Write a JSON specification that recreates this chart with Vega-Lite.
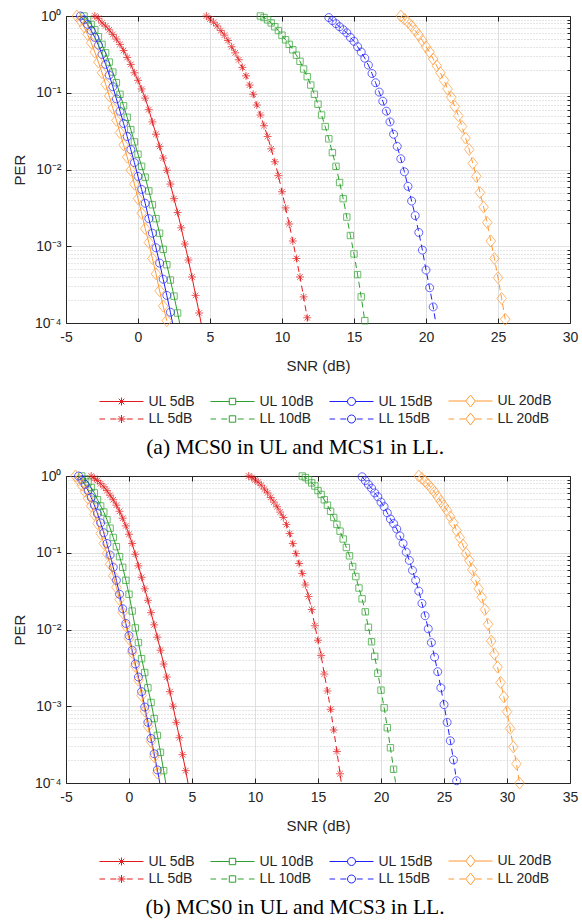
{
  "$schema": "https://vega.github.io/schema/vega-lite/v6.json",
  "background": "white",
  "padding": {"left": 12, "top": 8, "right": 2, "bottom": 2},
  "spacing": 9,
  "datasets": {
    "a": [
      {"series":"UL 5dB","snr":-3,"per":1},{"series":"UL 5dB","snr":-2.75,"per":0.933},{"series":"UL 5dB","snr":-2.5,"per":0.813},{"series":"UL 5dB","snr":-2.25,"per":0.741},{"series":"UL 5dB","snr":-2,"per":0.661},{"series":"UL 5dB","snr":-1.75,"per":0.575},{"series":"UL 5dB","snr":-1.5,"per":0.501},{"series":"UL 5dB","snr":-1.25,"per":0.427},{"series":"UL 5dB","snr":-1,"per":0.355},{"series":"UL 5dB","snr":-0.75,"per":0.288},{"series":"UL 5dB","snr":-0.5,"per":0.234},{"series":"UL 5dB","snr":-0.25,"per":0.182},{"series":"UL 5dB","snr":0,"per":0.145},{"series":"UL 5dB","snr":0.25,"per":0.112},{"series":"UL 5dB","snr":0.5,"per":0.0851},{"series":"UL 5dB","snr":0.75,"per":0.0603},{"series":"UL 5dB","snr":1,"per":0.0417},{"series":"UL 5dB","snr":1.25,"per":0.0288},{"series":"UL 5dB","snr":1.5,"per":0.02},{"series":"UL 5dB","snr":1.75,"per":0.0141},{"series":"UL 5dB","snr":2,"per":0.00977},{"series":"UL 5dB","snr":2.25,"per":0.00646},{"series":"UL 5dB","snr":2.5,"per":0.00417},{"series":"UL 5dB","snr":2.75,"per":0.00275},{"series":"UL 5dB","snr":3,"per":0.00174},{"series":"UL 5dB","snr":3.25,"per":0.00107},{"series":"UL 5dB","snr":3.5,"per":0.000661},{"series":"UL 5dB","snr":3.75,"per":0.000398},{"series":"UL 5dB","snr":4,"per":0.000229},{"series":"UL 5dB","snr":4.25,"per":0.000135},{"series":"UL 5dB","snr":4.5,"per":0.0000759},
      {"series":"UL 10dB","snr":-3.75,"per":1},{"series":"UL 10dB","snr":-3.5,"per":0.891},{"series":"UL 10dB","snr":-3.25,"per":0.776},{"series":"UL 10dB","snr":-3,"per":0.661},{"series":"UL 10dB","snr":-2.75,"per":0.537},{"series":"UL 10dB","snr":-2.5,"per":0.427},{"series":"UL 10dB","snr":-2.25,"per":0.331},{"series":"UL 10dB","snr":-2,"per":0.251},{"series":"UL 10dB","snr":-1.75,"per":0.186},{"series":"UL 10dB","snr":-1.5,"per":0.135},{"series":"UL 10dB","snr":-1.25,"per":0.0955},{"series":"UL 10dB","snr":-1,"per":0.0676},{"series":"UL 10dB","snr":-0.75,"per":0.0479},{"series":"UL 10dB","snr":-0.5,"per":0.0331},{"series":"UL 10dB","snr":-0.25,"per":0.0229},{"series":"UL 10dB","snr":0,"per":0.0158},{"series":"UL 10dB","snr":0.25,"per":0.011},{"series":"UL 10dB","snr":0.5,"per":0.00794},{"series":"UL 10dB","snr":0.75,"per":0.00525},{"series":"UL 10dB","snr":1,"per":0.00347},{"series":"UL 10dB","snr":1.25,"per":0.00229},{"series":"UL 10dB","snr":1.5,"per":0.00148},{"series":"UL 10dB","snr":1.75,"per":0.000912},{"series":"UL 10dB","snr":2,"per":0.000575},{"series":"UL 10dB","snr":2.25,"per":0.000363},{"series":"UL 10dB","snr":2.5,"per":0.000224},{"series":"UL 10dB","snr":2.75,"per":0.000135},{"series":"UL 10dB","snr":3,"per":0.0000794},
      {"series":"UL 15dB","snr":-4,"per":1},{"series":"UL 15dB","snr":-3.75,"per":0.891},{"series":"UL 15dB","snr":-3.5,"per":0.776},{"series":"UL 15dB","snr":-3.25,"per":0.646},{"series":"UL 15dB","snr":-3,"per":0.525},{"series":"UL 15dB","snr":-2.75,"per":0.417},{"series":"UL 15dB","snr":-2.5,"per":0.316},{"series":"UL 15dB","snr":-2.25,"per":0.234},{"series":"UL 15dB","snr":-2,"per":0.17},{"series":"UL 15dB","snr":-1.75,"per":0.12},{"series":"UL 15dB","snr":-1.5,"per":0.0832},{"series":"UL 15dB","snr":-1.25,"per":0.0575},{"series":"UL 15dB","snr":-1,"per":0.0398},{"series":"UL 15dB","snr":-0.75,"per":0.0269},{"series":"UL 15dB","snr":-0.5,"per":0.0182},{"series":"UL 15dB","snr":-0.25,"per":0.0123},{"series":"UL 15dB","snr":0,"per":0.00813},{"series":"UL 15dB","snr":0.25,"per":0.0055},{"series":"UL 15dB","snr":0.5,"per":0.00363},{"series":"UL 15dB","snr":0.75,"per":0.00229},{"series":"UL 15dB","snr":1,"per":0.00148},{"series":"UL 15dB","snr":1.25,"per":0.000955},{"series":"UL 15dB","snr":1.5,"per":0.000603},{"series":"UL 15dB","snr":1.75,"per":0.000372},{"series":"UL 15dB","snr":2,"per":0.000229},{"series":"UL 15dB","snr":2.25,"per":0.000138},{"series":"UL 15dB","snr":2.5,"per":0.0000794},
      {"series":"UL 20dB","snr":-4.25,"per":1},{"series":"UL 20dB","snr":-4,"per":0.871},{"series":"UL 20dB","snr":-3.75,"per":0.724},{"series":"UL 20dB","snr":-3.5,"per":0.575},{"series":"UL 20dB","snr":-3.25,"per":0.447},{"series":"UL 20dB","snr":-3,"per":0.339},{"series":"UL 20dB","snr":-2.75,"per":0.251},{"series":"UL 20dB","snr":-2.5,"per":0.182},{"series":"UL 20dB","snr":-2.25,"per":0.129},{"series":"UL 20dB","snr":-2,"per":0.0912},{"series":"UL 20dB","snr":-1.75,"per":0.0631},{"series":"UL 20dB","snr":-1.5,"per":0.0437},{"series":"UL 20dB","snr":-1.25,"per":0.0302},{"series":"UL 20dB","snr":-1,"per":0.0209},{"series":"UL 20dB","snr":-0.75,"per":0.0145},{"series":"UL 20dB","snr":-0.5,"per":0.00977},{"series":"UL 20dB","snr":-0.25,"per":0.00646},{"series":"UL 20dB","snr":0,"per":0.00417},{"series":"UL 20dB","snr":0.25,"per":0.00269},{"series":"UL 20dB","snr":0.5,"per":0.0017},{"series":"UL 20dB","snr":0.75,"per":0.00112},{"series":"UL 20dB","snr":1,"per":0.000692},{"series":"UL 20dB","snr":1.25,"per":0.000437},{"series":"UL 20dB","snr":1.5,"per":0.000263},{"series":"UL 20dB","snr":1.75,"per":0.000166},{"series":"UL 20dB","snr":2,"per":0.000107},
      {"series":"LL 5dB","snr":4.75,"per":1},{"series":"LL 5dB","snr":5,"per":0.912},{"series":"LL 5dB","snr":5.25,"per":0.832},{"series":"LL 5dB","snr":5.5,"per":0.741},{"series":"LL 5dB","snr":5.75,"per":0.646},{"series":"LL 5dB","snr":6,"per":0.562},{"series":"LL 5dB","snr":6.25,"per":0.479},{"series":"LL 5dB","snr":6.5,"per":0.398},{"series":"LL 5dB","snr":6.75,"per":0.331},{"series":"LL 5dB","snr":7,"per":0.269},{"series":"LL 5dB","snr":7.25,"per":0.214},{"series":"LL 5dB","snr":7.5,"per":0.166},{"series":"LL 5dB","snr":7.75,"per":0.126},{"series":"LL 5dB","snr":8,"per":0.0955},{"series":"LL 5dB","snr":8.25,"per":0.0692},{"series":"LL 5dB","snr":8.5,"per":0.0513},{"series":"LL 5dB","snr":8.75,"per":0.0372},{"series":"LL 5dB","snr":9,"per":0.0269},{"series":"LL 5dB","snr":9.25,"per":0.0186},{"series":"LL 5dB","snr":9.5,"per":0.0126},{"series":"LL 5dB","snr":9.75,"per":0.00832},{"series":"LL 5dB","snr":10,"per":0.00513},{"series":"LL 5dB","snr":10.25,"per":0.00316},{"series":"LL 5dB","snr":10.5,"per":0.00195},{"series":"LL 5dB","snr":10.75,"per":0.00117},{"series":"LL 5dB","snr":11,"per":0.000692},{"series":"LL 5dB","snr":11.25,"per":0.000398},{"series":"LL 5dB","snr":11.5,"per":0.000219},{"series":"LL 5dB","snr":11.75,"per":0.000117},{"series":"LL 5dB","snr":12,"per":0.0000631},
      {"series":"LL 10dB","snr":8.5,"per":1},{"series":"LL 10dB","snr":8.75,"per":0.955},{"series":"LL 10dB","snr":9,"per":0.891},{"series":"LL 10dB","snr":9.25,"per":0.813},{"series":"LL 10dB","snr":9.5,"per":0.724},{"series":"LL 10dB","snr":9.75,"per":0.646},{"series":"LL 10dB","snr":10,"per":0.562},{"series":"LL 10dB","snr":10.25,"per":0.49},{"series":"LL 10dB","snr":10.5,"per":0.427},{"series":"LL 10dB","snr":10.75,"per":0.363},{"series":"LL 10dB","snr":11,"per":0.309},{"series":"LL 10dB","snr":11.25,"per":0.257},{"series":"LL 10dB","snr":11.5,"per":0.204},{"series":"LL 10dB","snr":11.75,"per":0.162},{"series":"LL 10dB","snr":12,"per":0.126},{"series":"LL 10dB","snr":12.25,"per":0.0955},{"series":"LL 10dB","snr":12.5,"per":0.0708},{"series":"LL 10dB","snr":12.75,"per":0.0513},{"series":"LL 10dB","snr":13,"per":0.0363},{"series":"LL 10dB","snr":13.25,"per":0.0251},{"series":"LL 10dB","snr":13.5,"per":0.0166},{"series":"LL 10dB","snr":13.75,"per":0.011},{"series":"LL 10dB","snr":14,"per":0.00676},{"series":"LL 10dB","snr":14.25,"per":0.00417},{"series":"LL 10dB","snr":14.5,"per":0.0024},{"series":"LL 10dB","snr":14.75,"per":0.00138},{"series":"LL 10dB","snr":15,"per":0.000794},{"series":"LL 10dB","snr":15.25,"per":0.000427},{"series":"LL 10dB","snr":15.5,"per":0.000219},{"series":"LL 10dB","snr":15.75,"per":0.000107},
      {"series":"LL 15dB","snr":13.25,"per":0.955},{"series":"LL 15dB","snr":13.5,"per":0.871},{"series":"LL 15dB","snr":13.75,"per":0.794},{"series":"LL 15dB","snr":14,"per":0.724},{"series":"LL 15dB","snr":14.25,"per":0.661},{"series":"LL 15dB","snr":14.5,"per":0.603},{"series":"LL 15dB","snr":14.75,"per":0.525},{"series":"LL 15dB","snr":15,"per":0.468},{"series":"LL 15dB","snr":15.25,"per":0.398},{"series":"LL 15dB","snr":15.5,"per":0.339},{"series":"LL 15dB","snr":15.75,"per":0.282},{"series":"LL 15dB","snr":16,"per":0.229},{"series":"LL 15dB","snr":16.25,"per":0.178},{"series":"LL 15dB","snr":16.5,"per":0.135},{"series":"LL 15dB","snr":16.75,"per":0.102},{"series":"LL 15dB","snr":17,"per":0.0776},{"series":"LL 15dB","snr":17.25,"per":0.0575},{"series":"LL 15dB","snr":17.5,"per":0.0417},{"series":"LL 15dB","snr":17.75,"per":0.0288},{"series":"LL 15dB","snr":18,"per":0.02},{"series":"LL 15dB","snr":18.25,"per":0.0138},{"series":"LL 15dB","snr":18.5,"per":0.00933},{"series":"LL 15dB","snr":18.75,"per":0.00603},{"series":"LL 15dB","snr":19,"per":0.00389},{"series":"LL 15dB","snr":19.25,"per":0.00251},{"series":"LL 15dB","snr":19.5,"per":0.00151},{"series":"LL 15dB","snr":19.75,"per":0.000891},{"series":"LL 15dB","snr":20,"per":0.00049},{"series":"LL 15dB","snr":20.25,"per":0.000288},{"series":"LL 15dB","snr":20.5,"per":0.000162},{"series":"LL 15dB","snr":20.75,"per":0.0000832},
      {"series":"LL 20dB","snr":18.25,"per":1},{"series":"LL 20dB","snr":18.5,"per":0.912},{"series":"LL 20dB","snr":18.75,"per":0.832},{"series":"LL 20dB","snr":19,"per":0.741},{"series":"LL 20dB","snr":19.25,"per":0.646},{"series":"LL 20dB","snr":19.5,"per":0.562},{"series":"LL 20dB","snr":19.75,"per":0.479},{"series":"LL 20dB","snr":20,"per":0.398},{"series":"LL 20dB","snr":20.25,"per":0.339},{"series":"LL 20dB","snr":20.5,"per":0.275},{"series":"LL 20dB","snr":20.75,"per":0.224},{"series":"LL 20dB","snr":21,"per":0.182},{"series":"LL 20dB","snr":21.25,"per":0.145},{"series":"LL 20dB","snr":21.5,"per":0.112},{"series":"LL 20dB","snr":21.75,"per":0.0871},{"series":"LL 20dB","snr":22,"per":0.0661},{"series":"LL 20dB","snr":22.25,"per":0.0501},{"series":"LL 20dB","snr":22.5,"per":0.0363},{"series":"LL 20dB","snr":22.75,"per":0.0257},{"series":"LL 20dB","snr":23,"per":0.0182},{"series":"LL 20dB","snr":23.25,"per":0.012},{"series":"LL 20dB","snr":23.5,"per":0.00813},{"series":"LL 20dB","snr":23.75,"per":0.00501},{"series":"LL 20dB","snr":24,"per":0.00324},{"series":"LL 20dB","snr":24.25,"per":0.00204},{"series":"LL 20dB","snr":24.5,"per":0.00117},{"series":"LL 20dB","snr":24.75,"per":0.000692},{"series":"LL 20dB","snr":25,"per":0.000389},{"series":"LL 20dB","snr":25.25,"per":0.000209},{"series":"LL 20dB","snr":25.5,"per":0.000112}
    ],
    "b": [
      {"series":"UL 5dB","snr":-3,"per":1},{"series":"UL 5dB","snr":-2.75,"per":0.933},{"series":"UL 5dB","snr":-2.5,"per":0.871},{"series":"UL 5dB","snr":-2.25,"per":0.794},{"series":"UL 5dB","snr":-2,"per":0.724},{"series":"UL 5dB","snr":-1.75,"per":0.646},{"series":"UL 5dB","snr":-1.5,"per":0.562},{"series":"UL 5dB","snr":-1.25,"per":0.49},{"series":"UL 5dB","snr":-1,"per":0.417},{"series":"UL 5dB","snr":-0.75,"per":0.347},{"series":"UL 5dB","snr":-0.5,"per":0.282},{"series":"UL 5dB","snr":-0.25,"per":0.224},{"series":"UL 5dB","snr":0,"per":0.174},{"series":"UL 5dB","snr":0.25,"per":0.132},{"series":"UL 5dB","snr":0.5,"per":0.0955},{"series":"UL 5dB","snr":0.75,"per":0.0676},{"series":"UL 5dB","snr":1,"per":0.0479},{"series":"UL 5dB","snr":1.25,"per":0.0339},{"series":"UL 5dB","snr":1.5,"per":0.024},{"series":"UL 5dB","snr":1.75,"per":0.0166},{"series":"UL 5dB","snr":2,"per":0.0115},{"series":"UL 5dB","snr":2.25,"per":0.00794},{"series":"UL 5dB","snr":2.5,"per":0.00537},{"series":"UL 5dB","snr":2.75,"per":0.00355},{"series":"UL 5dB","snr":3,"per":0.0024},{"series":"UL 5dB","snr":3.25,"per":0.00155},{"series":"UL 5dB","snr":3.5,"per":0.001},{"series":"UL 5dB","snr":3.75,"per":0.000617},{"series":"UL 5dB","snr":4,"per":0.000389},{"series":"UL 5dB","snr":4.25,"per":0.000234},{"series":"UL 5dB","snr":4.5,"per":0.000145},{"series":"UL 5dB","snr":4.75,"per":0.0000871},
      {"series":"UL 10dB","snr":-3.75,"per":1},{"series":"UL 10dB","snr":-3.5,"per":0.912},{"series":"UL 10dB","snr":-3.25,"per":0.832},{"series":"UL 10dB","snr":-3,"per":0.708},{"series":"UL 10dB","snr":-2.75,"per":0.603},{"series":"UL 10dB","snr":-2.5,"per":0.49},{"series":"UL 10dB","snr":-2.25,"per":0.407},{"series":"UL 10dB","snr":-2,"per":0.339},{"series":"UL 10dB","snr":-1.75,"per":0.269},{"series":"UL 10dB","snr":-1.5,"per":0.209},{"series":"UL 10dB","snr":-1.25,"per":0.158},{"series":"UL 10dB","snr":-1,"per":0.12},{"series":"UL 10dB","snr":-0.75,"per":0.0891},{"series":"UL 10dB","snr":-0.5,"per":0.0646},{"series":"UL 10dB","snr":-0.25,"per":0.0437},{"series":"UL 10dB","snr":0,"per":0.0288},{"series":"UL 10dB","snr":0.25,"per":0.0174},{"series":"UL 10dB","snr":0.5,"per":0.0105},{"series":"UL 10dB","snr":0.75,"per":0.00676},{"series":"UL 10dB","snr":1,"per":0.00417},{"series":"UL 10dB","snr":1.25,"per":0.00275},{"series":"UL 10dB","snr":1.5,"per":0.00174},{"series":"UL 10dB","snr":1.75,"per":0.00112},{"series":"UL 10dB","snr":2,"per":0.000692},{"series":"UL 10dB","snr":2.25,"per":0.000417},{"series":"UL 10dB","snr":2.5,"per":0.000251},{"series":"UL 10dB","snr":2.75,"per":0.000145},{"series":"UL 10dB","snr":3,"per":0.0000832},
      {"series":"UL 15dB","snr":-4,"per":1},{"series":"UL 15dB","snr":-3.75,"per":0.891},{"series":"UL 15dB","snr":-3.5,"per":0.776},{"series":"UL 15dB","snr":-3.25,"per":0.646},{"series":"UL 15dB","snr":-3,"per":0.525},{"series":"UL 15dB","snr":-2.75,"per":0.417},{"series":"UL 15dB","snr":-2.5,"per":0.324},{"series":"UL 15dB","snr":-2.25,"per":0.245},{"series":"UL 15dB","snr":-2,"per":0.182},{"series":"UL 15dB","snr":-1.75,"per":0.132},{"series":"UL 15dB","snr":-1.5,"per":0.0933},{"series":"UL 15dB","snr":-1.25,"per":0.0646},{"series":"UL 15dB","snr":-1,"per":0.0437},{"series":"UL 15dB","snr":-0.75,"per":0.0288},{"series":"UL 15dB","snr":-0.5,"per":0.0186},{"series":"UL 15dB","snr":-0.25,"per":0.012},{"series":"UL 15dB","snr":0,"per":0.00832},{"series":"UL 15dB","snr":0.25,"per":0.00537},{"series":"UL 15dB","snr":0.5,"per":0.00355},{"series":"UL 15dB","snr":0.75,"per":0.0024},{"series":"UL 15dB","snr":1,"per":0.00155},{"series":"UL 15dB","snr":1.25,"per":0.000977},{"series":"UL 15dB","snr":1.5,"per":0.000617},{"series":"UL 15dB","snr":1.75,"per":0.00038},{"series":"UL 15dB","snr":2,"per":0.00024},{"series":"UL 15dB","snr":2.25,"per":0.000148},{"series":"UL 15dB","snr":2.5,"per":0.0000891},
      {"series":"UL 20dB","snr":-4.25,"per":1},{"series":"UL 20dB","snr":-4,"per":0.891},{"series":"UL 20dB","snr":-3.75,"per":0.759},{"series":"UL 20dB","snr":-3.5,"per":0.631},{"series":"UL 20dB","snr":-3.25,"per":0.513},{"series":"UL 20dB","snr":-3,"per":0.407},{"series":"UL 20dB","snr":-2.75,"per":0.316},{"series":"UL 20dB","snr":-2.5,"per":0.24},{"series":"UL 20dB","snr":-2.25,"per":0.178},{"series":"UL 20dB","snr":-2,"per":0.132},{"series":"UL 20dB","snr":-1.75,"per":0.0977},{"series":"UL 20dB","snr":-1.5,"per":0.0708},{"series":"UL 20dB","snr":-1.25,"per":0.0501},{"series":"UL 20dB","snr":-1,"per":0.0355},{"series":"UL 20dB","snr":-0.75,"per":0.0245},{"series":"UL 20dB","snr":-0.5,"per":0.0166},{"series":"UL 20dB","snr":-0.25,"per":0.0112},{"series":"UL 20dB","snr":0,"per":0.00759},{"series":"UL 20dB","snr":0.25,"per":0.00501},{"series":"UL 20dB","snr":0.5,"per":0.00331},{"series":"UL 20dB","snr":0.75,"per":0.00219},{"series":"UL 20dB","snr":1,"per":0.00138},{"series":"UL 20dB","snr":1.25,"per":0.000871},{"series":"UL 20dB","snr":1.5,"per":0.00055},{"series":"UL 20dB","snr":1.75,"per":0.000347},{"series":"UL 20dB","snr":2,"per":0.000219},{"series":"UL 20dB","snr":2.25,"per":0.000135},
      {"series":"LL 5dB","snr":9.5,"per":1},{"series":"LL 5dB","snr":9.75,"per":0.955},{"series":"LL 5dB","snr":10,"per":0.891},{"series":"LL 5dB","snr":10.25,"per":0.832},{"series":"LL 5dB","snr":10.5,"per":0.759},{"series":"LL 5dB","snr":10.75,"per":0.676},{"series":"LL 5dB","snr":11,"per":0.603},{"series":"LL 5dB","snr":11.25,"per":0.525},{"series":"LL 5dB","snr":11.5,"per":0.457},{"series":"LL 5dB","snr":11.75,"per":0.398},{"series":"LL 5dB","snr":12,"per":0.339},{"series":"LL 5dB","snr":12.25,"per":0.288},{"series":"LL 5dB","snr":12.5,"per":0.234},{"series":"LL 5dB","snr":12.75,"per":0.178},{"series":"LL 5dB","snr":13,"per":0.132},{"series":"LL 5dB","snr":13.25,"per":0.0977},{"series":"LL 5dB","snr":13.5,"per":0.0724},{"series":"LL 5dB","snr":13.75,"per":0.0537},{"series":"LL 5dB","snr":14,"per":0.038},{"series":"LL 5dB","snr":14.25,"per":0.0269},{"series":"LL 5dB","snr":14.5,"per":0.0182},{"series":"LL 5dB","snr":14.75,"per":0.0112},{"series":"LL 5dB","snr":15,"per":0.00724},{"series":"LL 5dB","snr":15.25,"per":0.00457},{"series":"LL 5dB","snr":15.5,"per":0.00263},{"series":"LL 5dB","snr":15.75,"per":0.00158},{"series":"LL 5dB","snr":16,"per":0.000912},{"series":"LL 5dB","snr":16.25,"per":0.00049},{"series":"LL 5dB","snr":16.5,"per":0.000257},{"series":"LL 5dB","snr":16.75,"per":0.000132},{"series":"LL 5dB","snr":17,"per":0.0000676},
      {"series":"LL 10dB","snr":13.75,"per":1},{"series":"LL 10dB","snr":14,"per":0.955},{"series":"LL 10dB","snr":14.25,"per":0.891},{"series":"LL 10dB","snr":14.5,"per":0.813},{"series":"LL 10dB","snr":14.75,"per":0.741},{"series":"LL 10dB","snr":15,"per":0.646},{"series":"LL 10dB","snr":15.25,"per":0.575},{"series":"LL 10dB","snr":15.5,"per":0.49},{"series":"LL 10dB","snr":15.75,"per":0.417},{"series":"LL 10dB","snr":16,"per":0.347},{"series":"LL 10dB","snr":16.25,"per":0.288},{"series":"LL 10dB","snr":16.5,"per":0.234},{"series":"LL 10dB","snr":16.75,"per":0.191},{"series":"LL 10dB","snr":17,"per":0.151},{"series":"LL 10dB","snr":17.25,"per":0.117},{"series":"LL 10dB","snr":17.5,"per":0.0912},{"series":"LL 10dB","snr":17.75,"per":0.0661},{"series":"LL 10dB","snr":18,"per":0.049},{"series":"LL 10dB","snr":18.25,"per":0.0347},{"series":"LL 10dB","snr":18.5,"per":0.0251},{"series":"LL 10dB","snr":18.75,"per":0.017},{"series":"LL 10dB","snr":19,"per":0.0107},{"series":"LL 10dB","snr":19.25,"per":0.00692},{"series":"LL 10dB","snr":19.5,"per":0.00447},{"series":"LL 10dB","snr":19.75,"per":0.00269},{"series":"LL 10dB","snr":20,"per":0.00162},{"series":"LL 10dB","snr":20.25,"per":0.000955},{"series":"LL 10dB","snr":20.5,"per":0.000525},{"series":"LL 10dB","snr":20.75,"per":0.000288},{"series":"LL 10dB","snr":21,"per":0.000151},{"series":"LL 10dB","snr":21.25,"per":0.0000794},
      {"series":"LL 15dB","snr":18.5,"per":0.977},{"series":"LL 15dB","snr":18.75,"per":0.871},{"series":"LL 15dB","snr":19,"per":0.776},{"series":"LL 15dB","snr":19.25,"per":0.692},{"series":"LL 15dB","snr":19.5,"per":0.603},{"series":"LL 15dB","snr":19.75,"per":0.537},{"series":"LL 15dB","snr":20,"per":0.457},{"series":"LL 15dB","snr":20.25,"per":0.398},{"series":"LL 15dB","snr":20.5,"per":0.331},{"series":"LL 15dB","snr":20.75,"per":0.275},{"series":"LL 15dB","snr":21,"per":0.24},{"series":"LL 15dB","snr":21.25,"per":0.204},{"series":"LL 15dB","snr":21.5,"per":0.166},{"series":"LL 15dB","snr":21.75,"per":0.132},{"series":"LL 15dB","snr":22,"per":0.102},{"series":"LL 15dB","snr":22.25,"per":0.0794},{"series":"LL 15dB","snr":22.5,"per":0.0589},{"series":"LL 15dB","snr":22.75,"per":0.0437},{"series":"LL 15dB","snr":23,"per":0.0316},{"series":"LL 15dB","snr":23.25,"per":0.0219},{"series":"LL 15dB","snr":23.5,"per":0.0151},{"series":"LL 15dB","snr":23.75,"per":0.0102},{"series":"LL 15dB","snr":24,"per":0.00676},{"series":"LL 15dB","snr":24.25,"per":0.00437},{"series":"LL 15dB","snr":24.5,"per":0.00282},{"series":"LL 15dB","snr":24.75,"per":0.00174},{"series":"LL 15dB","snr":25,"per":0.00105},{"series":"LL 15dB","snr":25.25,"per":0.000617},{"series":"LL 15dB","snr":25.5,"per":0.000355},{"series":"LL 15dB","snr":25.75,"per":0.0002},{"series":"LL 15dB","snr":26,"per":0.000107},
      {"series":"LL 20dB","snr":23,"per":1},{"series":"LL 20dB","snr":23.25,"per":0.933},{"series":"LL 20dB","snr":23.5,"per":0.851},{"series":"LL 20dB","snr":23.75,"per":0.776},{"series":"LL 20dB","snr":24,"per":0.692},{"series":"LL 20dB","snr":24.25,"per":0.617},{"series":"LL 20dB","snr":24.5,"per":0.537},{"series":"LL 20dB","snr":24.75,"per":0.468},{"series":"LL 20dB","snr":25,"per":0.407},{"series":"LL 20dB","snr":25.25,"per":0.355},{"series":"LL 20dB","snr":25.5,"per":0.295},{"series":"LL 20dB","snr":25.75,"per":0.245},{"series":"LL 20dB","snr":26,"per":0.195},{"series":"LL 20dB","snr":26.25,"per":0.158},{"series":"LL 20dB","snr":26.5,"per":0.126},{"series":"LL 20dB","snr":26.75,"per":0.0977},{"series":"LL 20dB","snr":27,"per":0.0794},{"series":"LL 20dB","snr":27.25,"per":0.0603},{"series":"LL 20dB","snr":27.5,"per":0.0447},{"series":"LL 20dB","snr":27.75,"per":0.0339},{"series":"LL 20dB","snr":28,"per":0.0263},{"series":"LL 20dB","snr":28.25,"per":0.0182},{"series":"LL 20dB","snr":28.5,"per":0.0117},{"series":"LL 20dB","snr":28.75,"per":0.00708},{"series":"LL 20dB","snr":29,"per":0.00479},{"series":"LL 20dB","snr":29.25,"per":0.00324},{"series":"LL 20dB","snr":29.5,"per":0.00204},{"series":"LL 20dB","snr":29.75,"per":0.00132},{"series":"LL 20dB","snr":30,"per":0.000851},{"series":"LL 20dB","snr":30.25,"per":0.000513},{"series":"LL 20dB","snr":30.5,"per":0.000295},{"series":"LL 20dB","snr":30.75,"per":0.000178},{"series":"LL 20dB","snr":31,"per":0.0001}
    ]
  },
  "config": {
    "font": "Liberation Sans",
    "view": {"stroke": null},
    "axis": {"labelFont": "Liberation Sans", "labelFontSize": 14, "labelColor": "#262626", "titleFont": "Liberation Sans", "titleFontSize": 15, "titleFontWeight": "normal", "titleColor": "#262626", "domainColor": "#262626", "tickColor": "#262626", "gridColor": "#e0e0e0", "gridWidth": 1, "labelFlush": false, "labelOverlap": false},
    "legend": {"orient": "none", "legendX": 33.5, "legendY": 378, "direction": "horizontal", "columns": 4, "symbolSize": 64, "symbolStrokeWidth": 1, "symbolOffset": 15, "labelOffset": 20, "columnPadding": 13, "rowPadding": 2, "symbolFillColor": "transparent", "symbolOpacity": 1, "labelFont": "Liberation Sans", "labelFontSize": 14, "labelColor": "#262626"},
    "title": {"font": "Liberation Serif", "fontSize": 21.5, "fontWeight": "normal", "color": "#000000", "offset": 10, "anchor": "middle", "frame": "bounds"}
  },
  "resolve": {"scale": {"color": "independent", "shape": "independent"}, "legend": {"color": "independent", "shape": "independent"}},
  "vconcat": [
    {
      "width": 504, "height": 307,
      "data": {"name": "a"},
      "title": {"text": "(a) MCS0 in UL and MCS1 in LL.", "orient": "bottom"},
      "resolve": {"axis": {"x": "independent", "y": "independent"}},
      "layer": [
        {
          "transform": [{"filter": "indexof(datum.series, 'UL') == 0"}],
          "mark": {"type": "line", "strokeWidth": 1, "clip": true},
          "encoding": {
            "x": {"field": "snr", "type": "quantitative", "scale": {"domain": [-5, 30], "nice": false, "zero": false}, "axis": {"orient": "bottom", "values": [-5,0,5,10,15,20,25,30], "labelExpr": "'' + datum.value", "grid": true, "tickSize": -5, "labelPadding": 12, "title": "SNR (dB)", "titlePadding": 14}},
            "y": {"field": "per", "type": "quantitative", "scale": {"type": "log", "domain": [0.0001, 1], "nice": false}, "axis": {"orient": "left", "values": [0.0001,0.001,0.01,0.1,1], "labelExpr": "datum.value >= 0.5 ? '10⁰' : datum.value >= 0.05 ? '10⁻¹' : datum.value >= 0.005 ? '10⁻²' : datum.value >= 0.0005 ? '10⁻³' : '10⁻⁴'", "grid": true, "tickSize": -5, "labelPadding": 10, "title": "PER", "titlePadding": 7}},
            "color": {"field": "series", "type": "nominal", "title": null, "scale": {"domain": ["UL 5dB","UL 10dB","UL 15dB","UL 20dB","LL 5dB","LL 10dB","LL 15dB","LL 20dB"], "range": ["#e41a1c","#2ca02c","#2020ff","#ff9933","#e41a1c","#2ca02c","#2020ff","#ff9933"]}}
          }
        },
        {
          "transform": [{"filter": "indexof(datum.series, 'LL') == 0"}],
          "mark": {"type": "line", "strokeWidth": 1, "clip": true, "strokeDash": [6, 4]},
          "encoding": {
            "x": {"field": "snr", "type": "quantitative", "scale": {"domain": [-5, 30], "nice": false, "zero": false}, "axis": null},
            "y": {"field": "per", "type": "quantitative", "scale": {"type": "log", "domain": [0.0001, 1], "nice": false}, "axis": null},
            "color": {"field": "series", "type": "nominal", "title": null}
          }
        },
        {
          "transform": [{"filter": "datum.per >= 0.0001 && (datum.series == 'UL 5dB' || datum.series == 'LL 5dB')"}],
          "mark": {"type": "point", "filled": false, "strokeWidth": 1, "size": 64, "shape": "M-1,0H1M0,-1V1M-0.7,-0.7L0.7,0.7M-0.7,0.7L0.7,-0.7"},
          "encoding": {
            "x": {"field": "snr", "type": "quantitative", "scale": {"domain": [-5, 30], "nice": false, "zero": false}, "axis": {"orient": "top", "values": [-5,0,5,10,15,20,25,30], "labels": false, "grid": false, "tickSize": -5, "title": null}},
            "y": {"field": "per", "type": "quantitative", "scale": {"type": "log", "domain": [0.0001, 1], "nice": false}, "axis": {"orient": "right", "values": [0.0002,0.0003,0.0004,0.0005,0.0006,0.0007,0.0008,0.0009,0.002,0.003,0.004,0.005,0.006,0.007,0.008,0.009,0.02,0.03,0.04,0.05,0.06,0.07,0.08,0.09,0.2,0.3,0.4,0.5,0.6,0.7,0.8,0.9], "labels": false, "grid": true, "gridDash": [1,2], "gridColor": "#cccccc", "tickSize": -3, "title": null}},
            "color": {"field": "series", "type": "nominal", "title": null}
          }
        },
        {
          "transform": [{"filter": "datum.per >= 0.0001 && (datum.series == 'UL 10dB' || datum.series == 'LL 10dB')"}],
          "mark": {"type": "point", "filled": false, "strokeWidth": 1, "size": 64, "shape": "M-0.8,-0.8H0.8V0.8H-0.8Z"},
          "encoding": {
            "x": {"field": "snr", "type": "quantitative", "scale": {"domain": [-5, 30], "nice": false, "zero": false}, "axis": null},
            "y": {"field": "per", "type": "quantitative", "scale": {"type": "log", "domain": [0.0001, 1], "nice": false}, "axis": null},
            "color": {"field": "series", "type": "nominal", "title": null}
          }
        },
        {
          "transform": [{"filter": "datum.per >= 0.0001 && (datum.series == 'UL 15dB' || datum.series == 'LL 15dB')"}],
          "mark": {"type": "point", "filled": false, "strokeWidth": 1, "size": 64, "shape": "M1,0A1,1,0,1,1,-1,0A1,1,0,1,1,1,0Z"},
          "encoding": {
            "x": {"field": "snr", "type": "quantitative", "scale": {"domain": [-5, 30], "nice": false, "zero": false}, "axis": null},
            "y": {"field": "per", "type": "quantitative", "scale": {"type": "log", "domain": [0.0001, 1], "nice": false}, "axis": null},
            "color": {"field": "series", "type": "nominal", "title": null}
          }
        },
        {
          "transform": [{"filter": "datum.per >= 0.0001 && (datum.series == 'UL 20dB' || datum.series == 'LL 20dB')"}],
          "mark": {"type": "point", "filled": false, "strokeWidth": 1, "size": 64, "shape": "M0,-1.5L1.2,0L0,1.5L-1.2,0Z"},
          "encoding": {
            "x": {"field": "snr", "type": "quantitative", "scale": {"domain": [-5, 30], "nice": false, "zero": false}, "axis": null},
            "y": {"field": "per", "type": "quantitative", "scale": {"type": "log", "domain": [0.0001, 1], "nice": false}, "axis": null},
            "color": {"field": "series", "type": "nominal", "title": null}
          }
        },
        {
          "transform": [{"filter": "datum.per < 0"}],
          "mark": {"type": "point", "filled": false, "strokeWidth": 1, "size": 64},
          "encoding": {
            "color": {"field": "series", "type": "nominal", "title": null},
            "shape": {"field": "series", "type": "nominal", "title": null, "scale": {"domain": ["UL 5dB","UL 10dB","UL 15dB","UL 20dB","LL 5dB","LL 10dB","LL 15dB","LL 20dB"], "range": ["M-5.5,0H5.5M-1,0H1M0,-1V1M-0.7,-0.7L0.7,0.7M-0.7,0.7L0.7,-0.7","M-5.5,0H-0.8M0.8,0H5.5M-0.8,-0.8H0.8V0.8H-0.8Z","M-5.5,0H-1M1,0H5.5M1,0A1,1,0,1,1,-1,0A1,1,0,1,1,1,0Z","M-5.5,0H-1.2M1.2,0H5.5M0,-1.5L1.2,0L0,1.5L-1.2,0Z","M-5.5,0H-4.1M-2.8,0H-1.3M1.3,0H2.8M4.1,0H5.5M-1,0H1M0,-1V1M-0.7,-0.7L0.7,0.7M-0.7,0.7L0.7,-0.7","M-5.5,0H-4.1M-2.8,0H-1.3M1.3,0H2.8M4.1,0H5.5M-0.8,-0.8H0.8V0.8H-0.8Z","M-5.5,0H-4.1M-2.8,0H-1.3M1.3,0H2.8M4.1,0H5.5M1,0A1,1,0,1,1,-1,0A1,1,0,1,1,1,0Z","M-5.5,0H-4.1M-2.8,0H-1.3M1.3,0H2.8M4.1,0H5.5M0,-1.5L1.2,0L0,1.5L-1.2,0Z"]}}
          }
        }
      ]
    },
    {
      "width": 504, "height": 307,
      "data": {"name": "b"},
      "title": {"text": "(b) MCS0 in UL and MCS3 in LL.", "orient": "bottom"},
      "resolve": {"axis": {"x": "independent", "y": "independent"}},
      "layer": [
        {
          "transform": [{"filter": "indexof(datum.series, 'UL') == 0"}],
          "mark": {"type": "line", "strokeWidth": 1, "clip": true},
          "encoding": {
            "x": {"field": "snr", "type": "quantitative", "scale": {"domain": [-5, 35], "nice": false, "zero": false}, "axis": {"orient": "bottom", "values": [-5,0,5,10,15,20,25,30,35], "labelExpr": "'' + datum.value", "grid": true, "tickSize": -5, "labelPadding": 12, "title": "SNR (dB)", "titlePadding": 14}},
            "y": {"field": "per", "type": "quantitative", "scale": {"type": "log", "domain": [0.0001, 1], "nice": false}, "axis": {"orient": "left", "values": [0.0001,0.001,0.01,0.1,1], "labelExpr": "datum.value >= 0.5 ? '10⁰' : datum.value >= 0.05 ? '10⁻¹' : datum.value >= 0.005 ? '10⁻²' : datum.value >= 0.0005 ? '10⁻³' : '10⁻⁴'", "grid": true, "tickSize": -5, "labelPadding": 10, "title": "PER", "titlePadding": 7}},
            "color": {"field": "series", "type": "nominal", "title": null, "scale": {"domain": ["UL 5dB","UL 10dB","UL 15dB","UL 20dB","LL 5dB","LL 10dB","LL 15dB","LL 20dB"], "range": ["#e41a1c","#2ca02c","#2020ff","#ff9933","#e41a1c","#2ca02c","#2020ff","#ff9933"]}}
          }
        },
        {
          "transform": [{"filter": "indexof(datum.series, 'LL') == 0"}],
          "mark": {"type": "line", "strokeWidth": 1, "clip": true, "strokeDash": [6, 4]},
          "encoding": {
            "x": {"field": "snr", "type": "quantitative", "scale": {"domain": [-5, 35], "nice": false, "zero": false}, "axis": null},
            "y": {"field": "per", "type": "quantitative", "scale": {"type": "log", "domain": [0.0001, 1], "nice": false}, "axis": null},
            "color": {"field": "series", "type": "nominal", "title": null}
          }
        },
        {
          "transform": [{"filter": "datum.per >= 0.0001 && (datum.series == 'UL 5dB' || datum.series == 'LL 5dB')"}],
          "mark": {"type": "point", "filled": false, "strokeWidth": 1, "size": 64, "shape": "M-1,0H1M0,-1V1M-0.7,-0.7L0.7,0.7M-0.7,0.7L0.7,-0.7"},
          "encoding": {
            "x": {"field": "snr", "type": "quantitative", "scale": {"domain": [-5, 35], "nice": false, "zero": false}, "axis": {"orient": "top", "values": [-5,0,5,10,15,20,25,30,35], "labels": false, "grid": false, "tickSize": -5, "title": null}},
            "y": {"field": "per", "type": "quantitative", "scale": {"type": "log", "domain": [0.0001, 1], "nice": false}, "axis": {"orient": "right", "values": [0.0002,0.0003,0.0004,0.0005,0.0006,0.0007,0.0008,0.0009,0.002,0.003,0.004,0.005,0.006,0.007,0.008,0.009,0.02,0.03,0.04,0.05,0.06,0.07,0.08,0.09,0.2,0.3,0.4,0.5,0.6,0.7,0.8,0.9], "labels": false, "grid": true, "gridDash": [1,2], "gridColor": "#cccccc", "tickSize": -3, "title": null}},
            "color": {"field": "series", "type": "nominal", "title": null}
          }
        },
        {
          "transform": [{"filter": "datum.per >= 0.0001 && (datum.series == 'UL 10dB' || datum.series == 'LL 10dB')"}],
          "mark": {"type": "point", "filled": false, "strokeWidth": 1, "size": 64, "shape": "M-0.8,-0.8H0.8V0.8H-0.8Z"},
          "encoding": {
            "x": {"field": "snr", "type": "quantitative", "scale": {"domain": [-5, 35], "nice": false, "zero": false}, "axis": null},
            "y": {"field": "per", "type": "quantitative", "scale": {"type": "log", "domain": [0.0001, 1], "nice": false}, "axis": null},
            "color": {"field": "series", "type": "nominal", "title": null}
          }
        },
        {
          "transform": [{"filter": "datum.per >= 0.0001 && (datum.series == 'UL 15dB' || datum.series == 'LL 15dB')"}],
          "mark": {"type": "point", "filled": false, "strokeWidth": 1, "size": 64, "shape": "M1,0A1,1,0,1,1,-1,0A1,1,0,1,1,1,0Z"},
          "encoding": {
            "x": {"field": "snr", "type": "quantitative", "scale": {"domain": [-5, 35], "nice": false, "zero": false}, "axis": null},
            "y": {"field": "per", "type": "quantitative", "scale": {"type": "log", "domain": [0.0001, 1], "nice": false}, "axis": null},
            "color": {"field": "series", "type": "nominal", "title": null}
          }
        },
        {
          "transform": [{"filter": "datum.per >= 0.0001 && (datum.series == 'UL 20dB' || datum.series == 'LL 20dB')"}],
          "mark": {"type": "point", "filled": false, "strokeWidth": 1, "size": 64, "shape": "M0,-1.5L1.2,0L0,1.5L-1.2,0Z"},
          "encoding": {
            "x": {"field": "snr", "type": "quantitative", "scale": {"domain": [-5, 35], "nice": false, "zero": false}, "axis": null},
            "y": {"field": "per", "type": "quantitative", "scale": {"type": "log", "domain": [0.0001, 1], "nice": false}, "axis": null},
            "color": {"field": "series", "type": "nominal", "title": null}
          }
        },
        {
          "transform": [{"filter": "datum.per < 0"}],
          "mark": {"type": "point", "filled": false, "strokeWidth": 1, "size": 64},
          "encoding": {
            "color": {"field": "series", "type": "nominal", "title": null},
            "shape": {"field": "series", "type": "nominal", "title": null, "scale": {"domain": ["UL 5dB","UL 10dB","UL 15dB","UL 20dB","LL 5dB","LL 10dB","LL 15dB","LL 20dB"], "range": ["M-5.5,0H5.5M-1,0H1M0,-1V1M-0.7,-0.7L0.7,0.7M-0.7,0.7L0.7,-0.7","M-5.5,0H-0.8M0.8,0H5.5M-0.8,-0.8H0.8V0.8H-0.8Z","M-5.5,0H-1M1,0H5.5M1,0A1,1,0,1,1,-1,0A1,1,0,1,1,1,0Z","M-5.5,0H-1.2M1.2,0H5.5M0,-1.5L1.2,0L0,1.5L-1.2,0Z","M-5.5,0H-4.1M-2.8,0H-1.3M1.3,0H2.8M4.1,0H5.5M-1,0H1M0,-1V1M-0.7,-0.7L0.7,0.7M-0.7,0.7L0.7,-0.7","M-5.5,0H-4.1M-2.8,0H-1.3M1.3,0H2.8M4.1,0H5.5M-0.8,-0.8H0.8V0.8H-0.8Z","M-5.5,0H-4.1M-2.8,0H-1.3M1.3,0H2.8M4.1,0H5.5M1,0A1,1,0,1,1,-1,0A1,1,0,1,1,1,0Z","M-5.5,0H-4.1M-2.8,0H-1.3M1.3,0H2.8M4.1,0H5.5M0,-1.5L1.2,0L0,1.5L-1.2,0Z"]}}
          }
        }
      ]
    }
  ]
}
